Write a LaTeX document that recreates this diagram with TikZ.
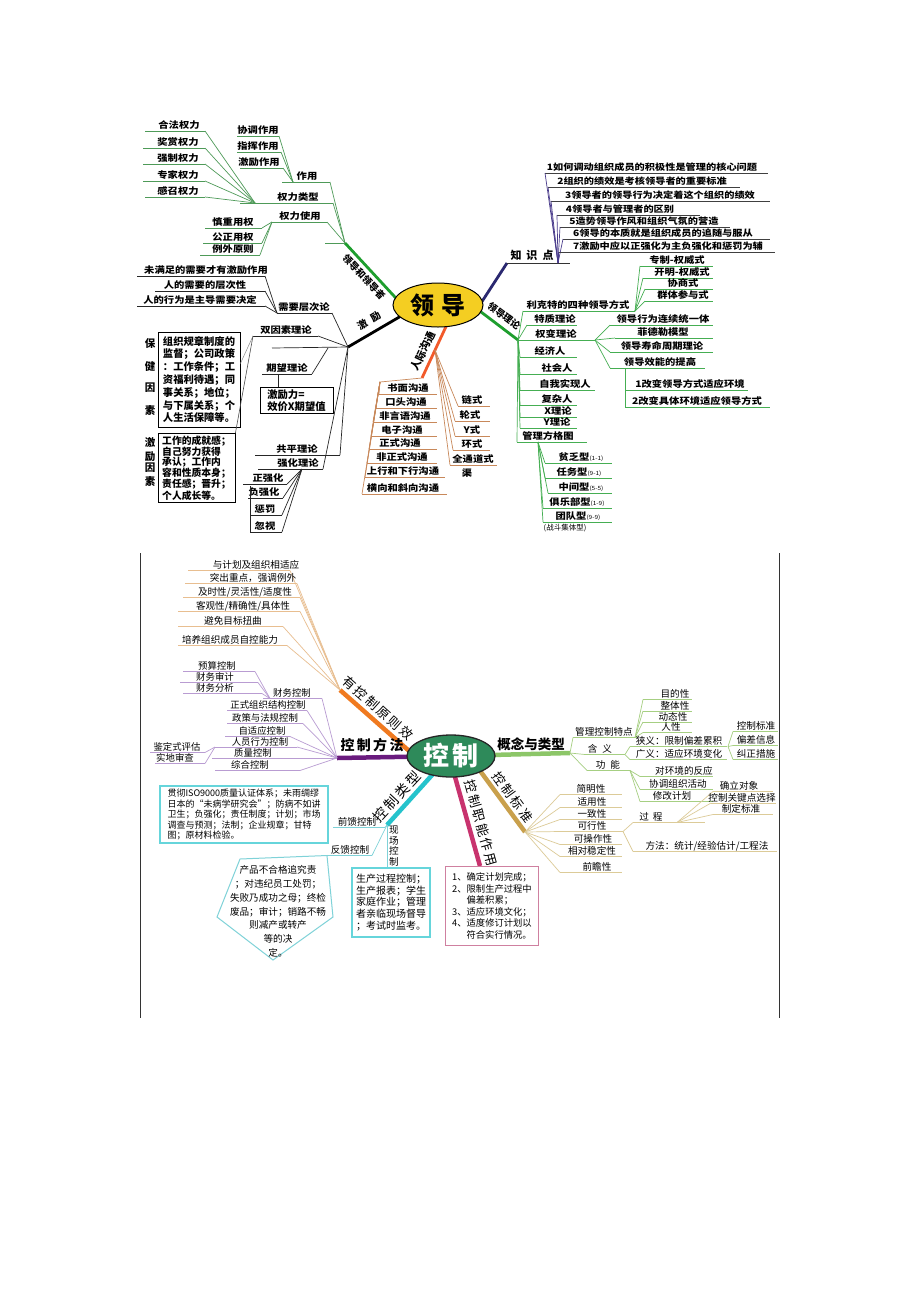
\documentclass[tikz,border=0pt]{standalone}
\usepackage{fontspec}
\setmainfont{Noto Sans CJK SC}
\usetikzlibrary{shapes.geometric}
\definecolor{cYel}{HTML}{F4CE22}
\definecolor{cG1}{HTML}{1E9E2E}
\definecolor{cG1t}{HTML}{4E9A58}
\definecolor{cOr1}{HTML}{F25A2A}
\definecolor{cOr1t}{HTML}{C8885A}
\definecolor{cNv}{HTML}{2A2870}
\definecolor{cNvt}{HTML}{4A3C8C}
\definecolor{cG2t}{HTML}{45AE52}
\definecolor{cCtl}{HTML}{2E8A5A}
\definecolor{cOr2}{HTML}{F07A20}
\definecolor{cOr2t}{HTML}{E8BE90}
\definecolor{cPu}{HTML}{6A1B7E}
\definecolor{cPut}{HTML}{B99CD2}
\definecolor{cGr}{HTML}{8CC668}
\definecolor{cGrt}{HTML}{A6CF82}
\definecolor{cTan}{HTML}{C9A04C}
\definecolor{cTant}{HTML}{DCCB98}
\definecolor{cMg}{HTML}{C8336E}
\definecolor{cMgt}{HTML}{CF80A0}
\definecolor{cCy}{HTML}{25C3CC}
\definecolor{cCyt}{HTML}{7FD2D8}
\newcommand\fs[1]{\fontsize{#1}{#1}\selectfont}
\newcommand\fss[2]{\fontsize{#1}{#2}\selectfont}
\newcommand\tsm[1]{{\fontsize{6.5}{7}\selectfont\mdseries #1}}
\def\uo{6}
% name, x, y, text, underline-left, underline-right, connector side (L/R/N), hub
\newcommand\U[8]{%
  \node[itm] (#1) at (#2,#3) {#4};
  \coordinate (#1L) at (#5,#3+\uo);
  \coordinate (#1R) at (#6,#3+\uo);
  \draw[ulst] (#1L) -- (#1R);
  \ifx N#7\else\draw[cnst] (#1#7) -- (#8);\fi
}
\begin{document}
\begin{tikzpicture}[x=1pt,y=-1pt]
\path[fill=white] (0,0) rectangle (920,1302);
\coordinate (E1c) at (438,305);
\coordinate (E2c) at (451,756);

%%%%%%%%%%%%%%%% MAP 1 : 领导 %%%%%%%%%%%%%%%%
% ---- 领导和领导者
\begin{scope}[itm/.style={inner sep=0pt,font=\fs{10.3}\bfseries,yscale=0.88},
  ulst/.style={draw=cG1t,line width=0.7pt}, cnst/.style={ulst}]
\def\uo{6}
\coordinate (H1) at (345,243);
\coordinate (E1a) at (406,309);
\draw[cG1,line width=2.8pt] (H1) -- (E1a);
\draw[ulst] (325,243) -- (H1);
\node[font=\fs{9.5}\bfseries,rotate=-47,inner sep=0pt] (lbA) at (364,277) {领导和领导者};
\U{zy}{307}{176}{作用}{282}{330}{R}{H1}
\U{qlx}{298}{197}{权力类型}{240}{333}{R}{H1}
\U{qls}{300}{216}{权力使用}{272}{327}{R}{H1}
\coordinate (Hzy) at (293,182);
\U{xt}{258}{130}{协调作用}{237}{279}{R}{Hzy}
\U{zh}{258}{146}{指挥作用}{237}{281}{R}{Hzy}
\U{jlz}{259}{162}{激励作用}{240}{283}{R}{Hzy}
\coordinate (Hql) at (255,203);
\U{hf}{179}{125}{合法权力}{145}{205}{R}{Hql}
\U{js}{178}{142}{奖赏权力}{143}{205}{R}{Hql}
\U{qz}{178}{158}{强制权力}{143}{205}{R}{Hql}
\U{zj}{178}{175}{专家权力}{143}{205}{R}{Hql}
\U{gz}{178}{191}{感召权力}{145}{205}{R}{Hql}
\coordinate (Hqs) at (272,222);
\U{sz}{233}{222}{慎重用权}{205}{262}{R}{Hqs}
\U{gzy}{233}{237}{公正用权}{203}{262}{R}{Hqs}
\U{lw}{233}{249}{例外原则}{200}{260}{R}{Hqs}
\end{scope}

% ---- 激励
\begin{scope}[itm/.style={inner sep=0pt,font=\fs{10.3}\bfseries,yscale=0.88},
  ulst/.style={draw=black!85,line width=0.7pt}, cnst/.style={ulst}]
\def\uo{6}
\coordinate (H2) at (348,347);
\coordinate (E1b) at (425,302);
\draw[black,line width=2.8pt] (H2) -- (E1b);
\node[font=\fs{10}\bfseries,rotate=31,inner sep=0pt] (lbB) at (369,321) {激\hspace{5pt}励};
\U{xq}{304}{307}{需要层次论}{277}{332}{R}{H2}
\coordinate (Hxq) at (277,313);
\U{wm}{206}{270}{未满足的需要才有激励作用}{137}{265}{R}{Hxq}
\U{rx}{205}{285}{人的需要的层次性}{155}{265}{R}{Hxq}
\U{rw}{200}{300}{人的行为是主导需要决定}{137}{265}{R}{Hxq}
\U{sy}{286}{330}{双因素理论}{253}{318}{R}{H2}
\coordinate (Hqw) at (272,348);
\draw[ulst] (Hqw) -- (H2);
\U{qw}{287}{368}{期望理论}{262}{312}{N}{}
\draw[cnst] (qwR) -- (328,348);
\node[draw=black,line width=0.8pt,font=\fss{10.3}{12}\bfseries,align=left,minimum width=73pt,minimum height=25pt,inner sep=2pt] (jlb) at (296.5,400.5) {激励力=\\效价X期望值};
\draw[cnst] (278,374) -- (jlb.north -| 278,374);
\U{gp}{297}{449}{共平理论}{255}{340}{R}{H2}
\U{qh}{298}{463}{强化理论}{258}{323}{R}{H2}
\coordinate (Hqh) at (302,469);
\U{zq}{268}{478}{正强化}{243}{287}{R}{Hqh}
\U{fq}{264}{492}{负强化}{248}{283}{R}{Hqh}
\U{cf}{265}{509}{惩罚}{250}{282}{R}{Hqh}
\U{hs}{265}{526}{忽视}{250}{282}{R}{Hqh}
\draw[ulst] (250,486) -- (250,532);
\node[draw=black,line width=0.8pt,font=\fss{10.3}{12.8}\bfseries,align=left,minimum width=82pt,minimum height=95pt,inner sep=2pt] (bj) at (199,379.5)
 {组织规章制度的\\监督；公司政策\\：工作条件；工\\资福利待遇；同\\事关系；地位；\\与下属关系；个\\人生活保障等。};
\node[font=\fss{10.5}{10.5}\bfseries,align=center,inner sep=0pt] (bjl) at (150,377) {保\\[13pt]健\\[10pt]因\\[13pt]素};
\node[draw=black,line width=0.8pt,font=\fss{9.8}{10}\bfseries,align=left,minimum width=77pt,minimum height=60pt,inner sep=2pt] (jy) at (196.5,468)
 {工作的成就感；\\自己努力获得\\承认；工作内\\容和性质本身；\\责任感；晋升；\\个人成长等。};
\node[font=\fss{10.5}{10.5}\bfseries,align=center,inner sep=0pt] (jyl) at (150,462) {激\\[3pt]励\\[1pt]因\\[3pt]素};
\draw[black!45,line width=0.5pt] (syL) -- ([yshift=16pt]bj.east);
\draw[black!70,line width=0.6pt] (syL) -- (jy.north east);
\end{scope}

% ---- 人际沟通
\begin{scope}[itm/.style={inner sep=0pt,font=\fs{10.3}\bfseries,yscale=0.88},
  ulst/.style={draw=cOr1t,line width=0.7pt}, cnst/.style={ulst}]
\def\uo{6}
\coordinate (H3) at (422,378);
\coordinate (E1s) at (450,318);
\draw[cOr1,line width=2.8pt] (H3) -- (E1s);
\node[font=\fs{10.5}\bfseries,rotate=65,inner sep=0pt] (lbC) at (423,351) {人际沟通};
\coordinate (Hrl) at (380,382);
\draw[ulst] (Hrl) -- (H3);
\U{r1}{408}{388}{书面沟通}{379}{437}{L}{Hrl}
\U{r2}{406}{402}{口头沟通}{376}{437}{L}{Hrl}
\U{r3}{405}{416}{非言语沟通}{373}{437}{L}{Hrl}
\U{r4}{402}{430}{电子沟通}{371}{437}{L}{Hrl}
\U{r5}{400}{443}{正式沟通}{369}{437}{L}{Hrl}
\U{r6}{402}{457}{非正式沟通}{367}{437}{L}{Hrl}
\U{r7}{403}{471}{上行和下行沟通}{365}{445}{L}{Hrl}
\U{r8}{403}{488}{横向和斜向沟通}{362}{447}{L}{Hrl}
\coordinate (Hrr) at (435,350);
\U{s1}{472}{400}{链式}{458}{490}{L}{Hrr}
\U{s2}{470}{415}{轮式}{455}{490}{L}{Hrr}
\U{s3}{472}{430}{Y式}{455}{490}{L}{Hrr}
\U{s4}{472}{444}{环式}{453}{490}{L}{Hrr}
\U{s5}{473}{459}{全通道式}{450}{497}{L}{Hrr}
\node[itm] (s6) at (467,473) {渠};
\end{scope}

% ---- 知识点
\begin{scope}[itm/.style={inner sep=0pt,font=\fs{10.2}\bfseries,yscale=0.86},
  ulst/.style={draw=black!75,line width=0.7pt}, cnst/.style={draw=cNvt,line width=0.7pt}]
\def\uo{6}
\coordinate (H4) at (507,263);
\coordinate (E1d) at (470,320);
\draw[cNv,line width=2.8pt] (H4) -- (E1d);
\coordinate (H4e) at (570,263);
\draw[black!80,line width=0.8pt] (H4) -- (H4e);
\node[font=\fs{11}\bfseries,inner sep=0pt] (lbD) at (532,255) {知\hspace{5pt}识\hspace{5pt}点};
\coordinate (Hzs) at (558,263);
\U{k1}{652}{167}{1如何调动组织成员的积极性是管理的核心问题}{545}{768}{L}{Hzs}
\U{k2}{642}{181}{2组织的绩效是考核领导者的重要标准}{548}{740}{L}{Hzs}
\U{k3}{660}{195}{3领导者的领导行为决定着这个组织的绩效}{551}{770}{L}{Hzs}
\U{k4}{620}{209}{4领导者与管理者的区别}{557}{700}{L}{Hzs}
\U{k5}{644}{221}{5造势领导作风和组织气氛的营造}{560}{730}{L}{Hzs}
\U{k6}{663}{233}{6领导的本质就是组织成员的追随与服从}{563}{770}{L}{Hzs}
\U{k7}{668}{246}{7激励中应以正强化为主负强化和惩罚为辅}{558}{775}{L}{Hzs}
\end{scope}

% ---- 领导理论
\begin{scope}[itm/.style={inner sep=0pt,font=\fs{10.3}\bfseries,yscale=0.88},
  ulst/.style={draw=cG2t,line width=0.7pt}, cnst/.style={ulst}]
\def\uo{6}
\coordinate (H5) at (518,340);
\coordinate (E1e) at (460,296);
\draw[cG1,line width=2.8pt] (H5) -- (E1e);
\node[font=\fs{9.5}\bfseries,rotate=-37,inner sep=0pt] (lbE) at (504,316) {领导理论};
\U{lk}{578}{305}{利克特的四种领导方式}{523}{635}{L}{H5}
\coordinate (Hlk) at (635,311);
\U{l1}{677}{260}{专制-权威式}{640}{713}{L}{Hlk}
\U{l2}{682}{272}{开明-权威式}{643}{713}{L}{Hlk}
\U{l3}{683}{283}{协商式}{645}{713}{L}{Hlk}
\U{l4}{683}{295}{群体参与式}{645}{713}{L}{Hlk}
\U{tz}{555}{319}{特质理论}{527}{577}{L}{H5}
\U{qb}{556}{334}{权变理论}{518}{595}{L}{H5}
\coordinate (Hqb) at (595,340);
\U{q1}{663}{319}{领导行为连续统一体}{610}{713}{L}{Hqb}
\U{q2}{663}{332}{菲德勒模型}{615}{713}{L}{Hqb}
\U{q3}{662}{346}{领导寿命周期理论}{610}{713}{L}{Hqb}
\U{q4}{660}{362}{领导效能的提高}{610}{705}{L}{Hqb}
\coordinate (Hq4) at (625,368);
\draw[ulst] (Hq4) -- (625,407);
\U{q5}{690}{384}{1改变领导方式适应环境}{625}{748}{N}{}
\U{q6}{697}{401}{2改变具体环境适应领导方式}{625}{770}{N}{}
\U{jj}{550}{351}{经济人}{520}{577}{L}{H5}
\U{sh}{557}{368}{社会人}{520}{577}{L}{H5}
\U{zw}{565}{384}{自我实现人}{520}{595}{L}{H5}
\U{fz}{557}{399}{复杂人}{520}{577}{L}{H5}
\U{xl}{558}{411}{X理论}{520}{577}{L}{H5}
\U{yl}{557}{422}{Y理论}{520}{577}{L}{H5}
\U{gl}{548}{436}{管理方格图}{517}{587}{L}{H5}
\coordinate (Hgl) at (538,442);
\U{g1}{581}{457}{贫乏型\tsm{(1-1)}}{545}{612}{L}{Hgl}
\U{g2}{579}{472}{任务型\tsm{(9-1)}}{545}{612}{L}{Hgl}
\U{g3}{581}{487}{中间型\tsm{(5-5)}}{548}{612}{L}{Hgl}
\U{g4}{577}{502}{俱乐部型\tsm{(1-9)}}{543}{612}{L}{Hgl}
\U{g5}{578}{516}{团队型\tsm{(9-9)}}{543}{612}{L}{Hgl}
\node[inner sep=0pt,font=\fs{7.5}] (g6) at (565,528) {(战斗集体型)};
\end{scope}

%%%%%%%%%%%%%%%% MAP 2 : 控制 %%%%%%%%%%%%%%%%
\coordinate (FrA) at (140,553);
\coordinate (FrB) at (140,1018);
\coordinate (FrC) at (779,553);
\coordinate (FrD) at (779,1018);
\draw[black!80,line width=1pt] (FrA) -- (FrB);
\draw[black!80,line width=1pt] (FrC) -- (FrD);

% ---- 有控制原则效
\begin{scope}[itm/.style={inner sep=0pt,font=\fs{9.6}},
  ulst/.style={draw=cOr2t,line width=0.7pt}, cnst/.style={ulst}]
\def\uo{5.5}
\coordinate (Hyx) at (340,690);
\coordinate (E2a) at (425,765);
\draw[cOr2,line width=4.5pt] (Hyx) -- (E2a);
\node[font=\fs{13},rotate=-41.5,inner sep=0pt] (lbF) at (378,708) {有\,控\,制\,原\,则\,效};
\U{y1}{256}{565}{与计划及组织相适应}{188}{290}{R}{Hyx}
\U{y2}{253}{578}{突出重点，强调例外}{185}{297}{R}{Hyx}
\U{y3}{245}{592}{及时性/灵活性/适度性}{183}{300}{R}{Hyx}
\U{y4}{243}{606}{客观性/精确性/具体性}{178}{300}{R}{Hyx}
\U{y5}{233}{621}{避免目标扭曲}{178}{283}{R}{Hyx}
\U{y6}{230}{640}{培养组织成员自控能力}{178}{287}{R}{Hyx}
\end{scope}

% ---- 控制方法
\begin{scope}[itm/.style={inner sep=0pt,font=\fs{9.4}},
  ulst/.style={draw=cPut,line width=0.7pt}, cnst/.style={ulst}]
\def\uo{5.5}
\coordinate (Hkf) at (337,758);
\draw[cPu,line width=4.5pt] (Hkf) -- (E2c);
\node[font=\fs{14}\bfseries,inner sep=0pt] (lbG) at (372,745) {控\,制\,方\,法};
\U{cw}{292}{693}{财务控制}{263}{322}{R}{Hkf}
\coordinate (Hcw) at (270,698.5);
\U{c1}{217}{666}{预算控制}{183}{255}{R}{Hcw}
\U{c2}{215}{677}{财务审计}{180}{258}{R}{Hcw}
\U{c3}{215}{688}{财务分析}{183}{262}{R}{Hcw}
\U{c4}{268}{705}{正式组织结构控制}{227}{307}{R}{Hkf}
\U{c5}{265}{718}{政策与法规控制}{227}{303}{R}{Hkf}
\U{c6}{262}{731}{自适应控制}{225}{290}{R}{Hkf}
\U{c7}{260}{741.5}{人员行为控制}{215}{297}{R}{Hkf}
\coordinate (Hry) at (215,747);
\U{c8}{177}{747}{鉴定式评估}{150}{205}{R}{Hry}
\U{c9}{175}{758}{实地审查}{155}{205}{R}{Hry}
\U{c10}{253}{752.5}{质量控制}{212}{337}{N}{}
\U{c11}{250}{765}{综合控制}{215}{300}{R}{Hkf}
\end{scope}

% ---- 概念与类型
\begin{scope}[itm/.style={inner sep=0pt,font=\fs{9.6}},
  ulst/.style={draw=cGrt,line width=0.7pt}, cnst/.style={ulst}]
\def\uo{5.5}
\coordinate (Hgn) at (570,753);
\draw[cGr,line width=4.5pt] (E2c) -- (Hgn);
\node[font=\fs{13.5}\bfseries,inner sep=0pt] (lbH) at (531,744) {概念与类型};
\U{gt}{604}{732}{管理控制特点}{573}{637}{L}{Hgn}
\coordinate (Hgt) at (635,737.5);
\U{t1}{675}{694}{目的性}{643}{692}{L}{Hgt}
\U{t2}{675}{705.5}{整体性}{643}{692}{L}{Hgt}
\U{t3}{673}{716.5}{动态性}{643}{692}{L}{Hgt}
\U{t4}{671}{727}{人性}{643}{692}{L}{Hgt}
\U{hy}{600}{749}{含\hspace{5pt}义}{585}{625}{L}{Hgn}
\coordinate (Hhy) at (625,754.5);
\U{h1}{679}{741}{狭义：限制偏差累积}{630}{727}{L}{Hhy}
\U{h2}{679}{754}{广义：适应环境变化}{630}{727}{L}{Hhy}
\coordinate (Hxy) at (728,746.5);
\U{x1}{756}{726}{控制标准}{733}{778}{L}{Hxy}
\U{x2}{756}{740}{偏差信息}{733}{778}{L}{Hxy}
\U{x3}{756}{754}{纠正措施}{733}{778}{L}{Hxy}
\U{gn}{608}{765}{功\hspace{5pt}能}{587}{630}{L}{Hgn}
\coordinate (Hgnn) at (630,770.5);
\U{n1}{684}{771}{对环境的反应}{640}{713}{L}{Hgnn}
\U{n2}{678}{784}{协调组织活动}{640}{713}{L}{Hgnn}
\U{n3}{672}{796}{修改计划}{640}{713}{L}{Hgnn}
\end{scope}

% ---- 控制标准
\begin{scope}[itm/.style={inner sep=0pt,font=\fs{9.6}},
  ulst/.style={draw=cTant,line width=0.7pt}, cnst/.style={ulst}]
\def\uo{5.5}
\coordinate (Hbz) at (525,832);
\coordinate (E2b) at (467,753);
\draw[cTan,line width=4.5pt] (Hbz) -- (E2b);
\node[font=\fs{13},rotate=-54,inner sep=0pt] (lbI) at (513,797) {控\,制\,标\,准};
\U{b1}{591}{789}{简明性}{560}{622}{L}{Hbz}
\U{b2}{592}{802}{适用性}{560}{622}{L}{Hbz}
\U{b3}{592}{814}{一致性}{560}{622}{L}{Hbz}
\U{b4}{592}{826}{可行性}{560}{623}{L}{Hbz}
\coordinate (Hkx) at (623,831.5);
\U{p1}{651}{817}{过\hspace{4pt}程}{633}{705}{L}{Hkx}
\coordinate (Hgc) at (677,822.5);
\U{p2}{739}{786}{确立对象}{713}{773}{L}{Hgc}
\U{p3}{742}{797.5}{控制关键点选择}{711}{776}{L}{Hgc}
\U{p4}{741}{809}{制定标准}{713}{773}{L}{Hgc}
\U{p5}{707}{846}{方法：统计/经验估计/工程法}{633}{777}{L}{Hkx}
\U{b5}{593}{839}{可操作性}{560}{622}{L}{Hbz}
\U{b6}{592}{851}{相对稳定性}{560}{622}{L}{Hbz}
\U{b7}{597}{867}{前瞻性}{560}{622}{L}{Hbz}
\end{scope}

% ---- 控制职能作用
\coordinate (Hzn) at (480,866);
\coordinate (E2m) at (450,759);
\draw[cMg,line width=4.5pt] (Hzn) -- (E2m);
\node[font=\fs{13},rotate=-74,inner sep=0pt] (lbJ) at (481,823) {控\,制\,职\,能\,作\,用};
\node[draw=cMgt,line width=1pt,font=\fss{9.3}{11.6},align=left,inner sep=4pt,minimum width=93pt,minimum height=79pt,anchor=north west] (zb) at (445,866)
 {1、确定计划完成；\\2、限制生产过程中\\\hspace{1.55em}偏差积累；\\3、适应环境文化；\\4、适度修订计划以\\\hspace{1.55em}符合实行情况。};

% ---- 控制类型
\begin{scope}[itm/.style={inner sep=0pt,font=\fs{9.6}},
  ulst/.style={draw=cCyt,line width=0.7pt}, cnst/.style={ulst}]
\def\uo{5.5}
\coordinate (Hlx) at (387,825);
\coordinate (E2c2) at (442,764);
\draw[cCy,line width=4.5pt] (Hlx) -- (E2c2);
\node[font=\fs{14},rotate=47,inner sep=0pt] (lbK) at (397,797) {控\,制\,类\,型};
\U{qk}{357}{822}{前馈控制}{333}{385}{R}{Hlx}
\node[draw=cCy!70,line width=1.2pt,font=\fss{9}{10.5},align=left,inner sep=3pt,minimum width=168pt,minimum height=55pt] (qkb) at (244,814.5)
 {贯彻ISO9000质量认证体系；未雨绸缪\\日本的“未病学研究会”；防病不如讲\\卫生；负强化；责任制度；计划；市场\\调查与预测；法制；企业规章；甘特\\图；原材料检验。};
\U{fk}{350}{850}{反馈控制}{327}{372}{R}{Hlx}
\coordinate (P1) at (240,859);
\coordinate (P2) at (217,917);
\coordinate (P3) at (273,960);
\coordinate (P4) at (333,917);
\draw[cCyt,line width=1pt] (fkL) -- (P1) -- (P2) -- (P3) -- (P4) -- cycle;
\node[font=\fss{9.6}{13.8},align=center,inner sep=0pt] (fkt) at (278,911.5)
 {产品不合格追究责\\；对违纪员工处罚；\\失败乃成功之母；终检\\废品；审计；销路不畅\\则减产或转产\\等的决\\定。};
\node[font=\fss{9.6}{10.5},align=center,inner sep=0pt] (xcl) at (394,846) {现\\场\\控\\制};
\node[draw=cCy!70,line width=1.2pt,font=\fss{10}{11.7},align=left,inner sep=3pt,minimum width=78pt,minimum height=69pt] (xcb) at (391,902.5)
 {生产过程控制；\\生产报表；学生\\家庭作业；管理\\者亲临现场督导\\；考试时监考。};
\draw[cnst] (Hlx) -- (xcb.north -| Hlx);
\end{scope}

%%%%%%%% centre ellipses
\node[ellipse,draw=black,line width=1pt,fill=cYel,minimum width=90pt,minimum height=44pt,inner sep=0pt,font=\fs{24}\bfseries] (E1) at (E1c) {领\hspace{8pt}导};
\node[ellipse,draw=black!85,line width=1.3pt,fill=cCtl,minimum width=88pt,minimum height=42pt,inner sep=0pt,text=white,font=\fs{26}\bfseries] (E2) at (E2c) {控\hspace{3pt}制};
\end{tikzpicture}
\end{document}
